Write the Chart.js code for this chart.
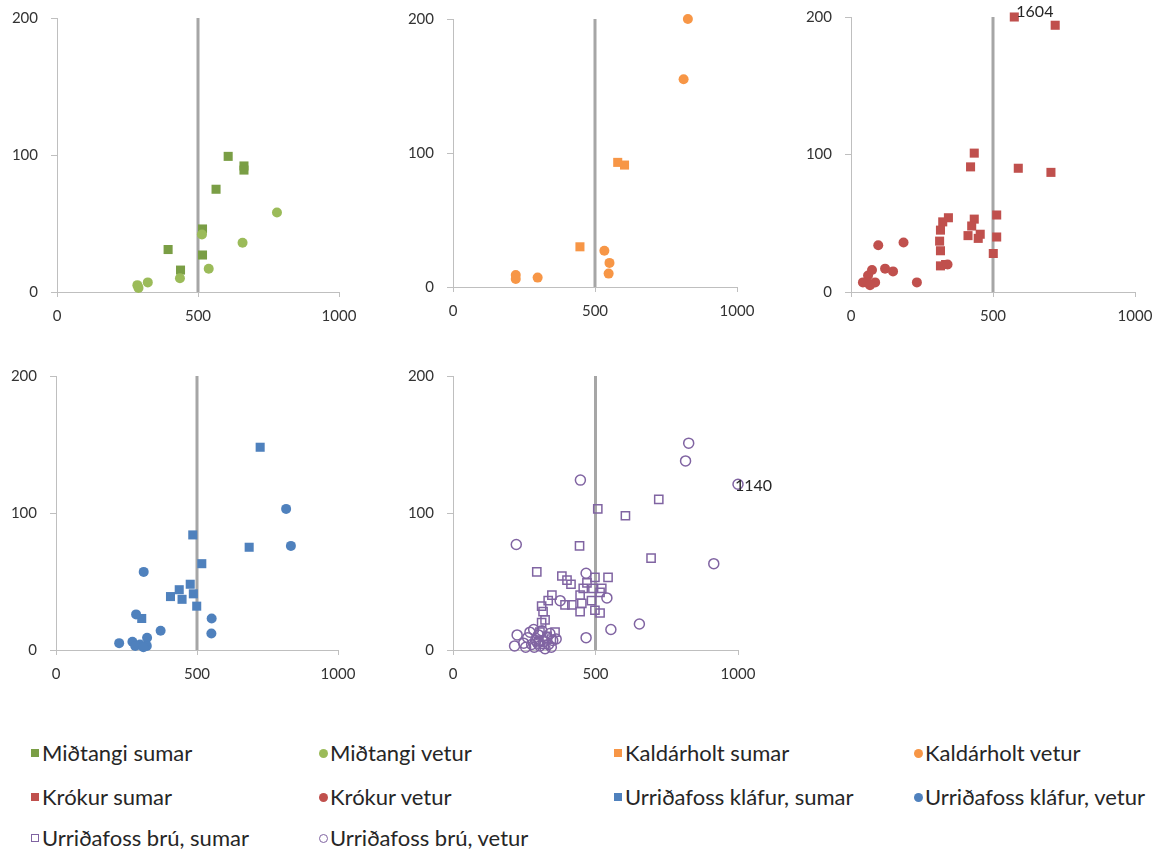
<!DOCTYPE html>
<html>
<head>
<meta charset="utf-8">
<script src="https://cdn.jsdelivr.net/npm/chart.js@4.4.1/dist/chart.umd.min.js"></script>
<style>
body{margin:0;background:#fff;width:1163px;height:850px;overflow:hidden;position:relative;font-family:Lato,sans-serif}
canvas{position:absolute}
.lg{position:absolute;font-size:22px;color:#262626;white-space:nowrap;line-height:24px}
.mk{position:absolute;box-sizing:border-box}
</style>
</head>
<body>
<div id="legend"></div>
<script>
// axis ranges shared by every panel
const X_MAX = 1000;
const Y_MAX = 200;
const X_TICKS = [0, 500, 1000];
const Y_TICKS = [0, 100, 200];
const THRESHOLD = 500;

// [x, y] pairs per station and season
const midtangiSumar = [[607,99],[663,92],[663,89],[564,75],[516,46],[394,31],[516,27],[438,16]];
const midtangiVetur = [[780,58],[514,42],[658,36],[538,17],[436,10],[322,7],[285,5],[289,3]];

const kaldarholtSumar = [[580,93],[604,91],[447,30]];
const kaldarholtVetur = [[827,200],[812,155],[533,27],[551,18],[548,10],[221,9],[221,6],[298,7]];

const krokurSumar = [[575,1604],[719,194],[434,101],[421,91],[589,90],[704,87],[513,56],[343,54],[323,51],[434,53],
  [425,48],[315,45],[412,41],[455,42],[448,39],[513,40],[312,37],[315,30],[501,28],[333,20],[315,19]];
const krokurVetur = [[96,34],[185,36],[120,17],[148,15],[340,20],[232,7],[74,16],[60,12],[56,7],[85,7],[42,7],[67,5]];

const klafurSumar = [[724,148],[485,84],[685,75],[517,63],[476,48],[437,44],[487,41],[406,39],[447,37],[499,32],[304,23]];
const klafurVetur = [[816,103],[833,76],[311,57],[284,26],[552,23],[371,14],[551,12],[323,9],[224,5],[271,6],[298,4],
  [322,3],[281,3],[310,2]];

const bruSumar = [[722,110],[508,103],[605,98],[444,76],[695,67],[294,57],[382,54],[400,51],[414,48],[457,45],[470,49],
  [498,53],[544,53],[491,45],[522,45],[516,42],[446,40],[347,40],[334,36],[452,34],[486,36],[393,33],[417,33],[311,32],
  [316,28],[446,28],[498,29],[516,27],[311,20],[323,22],[358,13],[305,13],[330,10],[345,8],[300,6],[320,4]];
const bruVetur = [[827,151],[816,138],[1140,121],[447,124],[222,77],[915,63],[467,56],[376,36],[540,38],[654,19],[554,15],
  [467,9],[225,11],[216,3],[248,5],[262,9],[270,13],[276,4],[285,2],[290,7],[300,11],[305,3],[312,14],[318,6],[323,1],
  [330,9],[335,4],[340,12],[345,2],[350,7],[362,8],[255,2],[283,15],[297,5]];

const seriesNames = [
  'Miðtangi sumar', 'Miðtangi vetur', 'Kaldárholt sumar', 'Kaldárholt vetur',
  'Krókur sumar', 'Krókur vetur', 'Urriðafoss kláfur, sumar', 'Urriðafoss kláfur, vetur',
  'Urriðafoss brú, sumar', 'Urriðafoss brú, vetur'
];

const styles = [
  {shape:'rect', color:'#7a9e45', fill:true},
  {shape:'circle', color:'#9bbb59', fill:true},
  {shape:'rect', color:'#f79646', fill:true},
  {shape:'circle', color:'#f79646', fill:true},
  {shape:'rect', color:'#c0504d', fill:true},
  {shape:'circle', color:'#c0504d', fill:true},
  {shape:'rect', color:'#4f81bd', fill:true},
  {shape:'circle', color:'#4f81bd', fill:true},
  {shape:'rect', color:'#8064a2', fill:false},
  {shape:'circle', color:'#8064a2', fill:false}
];

// chart area of each panel on the page: left, top, right, bottom
const panels = [
  {area:[57,18,339,292], series:[[midtangiSumar,0],[midtangiVetur,1]]},
  {area:[453,19,737,287], series:[[kaldarholtSumar,2],[kaldarholtVetur,3]]},
  {area:[851,17,1135,292], series:[[krokurSumar,4],[krokurVetur,5]]},
  {area:[56,376,338,650], series:[[klafurSumar,6],[klafurVetur,7]]},
  {area:[453,376,738,650], series:[[bruSumar,8],[bruVetur,9]]}
];

const Y_AXIS_W = 57, X_AXIS_H = 45, PAD_T = 14, PAD_R = 45;
const tickFont = {family:'Lato', size:15};

// values beyond the axis are pinned to the edge and labelled with their real value
const overflowLabels = {
  id: 'overflowLabels',
  afterDatasetsDraw(chart) {
    const ctx = chart.ctx;
    chart.data.datasets.forEach((ds, i) => {
      if (!ds.rawPoints) return;
      const meta = chart.getDatasetMeta(i);
      ds.rawPoints.forEach((p, j) => {
        if (p[0] <= X_MAX && p[1] <= Y_MAX) return;
        const el = meta.data[j];
        const overX = p[0] > X_MAX;
        const text = String(overX ? p[0] : p[1]);
        ctx.save();
        ctx.font = '16px Lato';
        ctx.fillStyle = '#262626';
        ctx.textAlign = 'left';
        ctx.textBaseline = 'middle';
        if (overX) ctx.fillText(text, el.x - 3, el.y + 2);
        else ctx.fillText(text, el.x + 2, el.y - 5);
        ctx.restore();
      });
    });
  }
};

function makeDataset(points, idx, order) {
  const st = styles[idx];
  return {
    label: seriesNames[idx],
    rawPoints: points,
    data: points.map(p => ({x: Math.min(p[0], X_MAX), y: Math.min(p[1], Y_MAX)})),
    pointStyle: st.shape,
    pointRadius: st.shape === 'rect' ? (st.fill ? 6.4 : 5.8) : 5,
    pointBorderWidth: st.fill ? 0 : 1.5,
    pointBackgroundColor: st.fill ? st.color : 'rgba(0,0,0,0)',
    pointBorderColor: st.color,
    showLine: false,
    clip: false,
    order: order
  };
}

function panelConfig(p) {
  return {
    type: 'scatter',
    data: {datasets: [
      makeDataset(p.series[0][0], p.series[0][1], 2),
      makeDataset(p.series[1][0], p.series[1][1], 1),
      {
        type: 'line',
        label: 'mörk',
        data: [{x: THRESHOLD, y: 0}, {x: THRESHOLD, y: Y_MAX}],
        borderColor: '#a6a6a6',
        borderWidth: 3,
        pointRadius: 0,
        order: 3
      }
    ]},
    plugins: [overflowLabels],
    options: {
      responsive: false,
      animation: false,
      layout: {padding: {left: 0, top: PAD_T, right: PAD_R, bottom: 0}},
      plugins: {legend: {display: false}, tooltip: {enabled: false}},
      scales: {
        x: {
          type: 'linear', min: 0, max: X_MAX,
          afterBuildTicks: s => { s.ticks = X_TICKS.map(v => ({value: v})); },
          afterFit: s => { s.height = X_AXIS_H; },
          grid: {drawOnChartArea: false, tickLength: 5, color: '#bfbfbf'},
          border: {color: '#bfbfbf', width: 1},
          ticks: {color: '#333', font: tickFont, padding: 10, maxRotation: 0, callback: v => String(v)}
        },
        y: {
          type: 'linear', min: 0, max: Y_MAX,
          afterBuildTicks: s => { s.ticks = Y_TICKS.map(v => ({value: v})); },
          afterFit: s => { s.width = Y_AXIS_W; },
          grid: {drawOnChartArea: false, tickLength: 6, color: '#bfbfbf'},
          border: {color: '#bfbfbf', width: 1},
          ticks: {color: '#333', font: tickFont, padding: 13, callback: v => String(v)}
        }
      }
    }
  };
}

panels.forEach(p => {
  const [L, T, R, B] = p.area;
  const cv = document.createElement('canvas');
  document.body.appendChild(cv);
  let w = (R - L) + Y_AXIS_W + PAD_R;
  let h = (B - T) + PAD_T + X_AXIS_H;
  cv.width = w; cv.height = h;
  let chart = new Chart(cv, panelConfig(p));
  // grow the canvas so the plot area gets the wanted size, then place it
  const ca = chart.chartArea;
  const dw = (R - L) - (ca.right - ca.left);
  const dh = (B - T) - (ca.bottom - ca.top);
  if (dw || dh) {
    chart.destroy();
    w += dw; h += dh;
    cv.width = w; cv.height = h;
    cv.style.width = w + 'px'; cv.style.height = h + 'px';
    chart = new Chart(cv, panelConfig(p));
  }
  cv.style.left = (L - chart.chartArea.left) + 'px';
  cv.style.top = (T - chart.chartArea.top) + 'px';
});

// legend below the panels, four entries per row
const legendCols = [31, 319, 614, 914];
const legendRows = [753, 797, 838];
const legendEl = document.getElementById('legend');
seriesNames.forEach((name, i) => {
  const st = styles[i];
  const x = legendCols[i % 4], y = legendRows[Math.floor(i / 4)];
  const mk = document.createElement('div');
  mk.className = 'mk';
  const size = st.shape === 'rect' ? 8 : 9;
  mk.style.left = (x + 4 - size / 2) + 'px';
  mk.style.top = (y - size / 2) + 'px';
  mk.style.width = size + 'px';
  mk.style.height = size + 'px';
  mk.style.borderRadius = st.shape === 'circle' ? '50%' : '0';
  if (st.fill) mk.style.background = st.color;
  else mk.style.border = '1.5px solid ' + st.color;
  legendEl.appendChild(mk);
  const tx = document.createElement('div');
  tx.className = 'lg';
  tx.textContent = name;
  tx.style.left = (x + 11) + 'px';
  tx.style.top = (y - 12) + 'px';
  legendEl.appendChild(tx);
});
</script>
</body>
</html>
